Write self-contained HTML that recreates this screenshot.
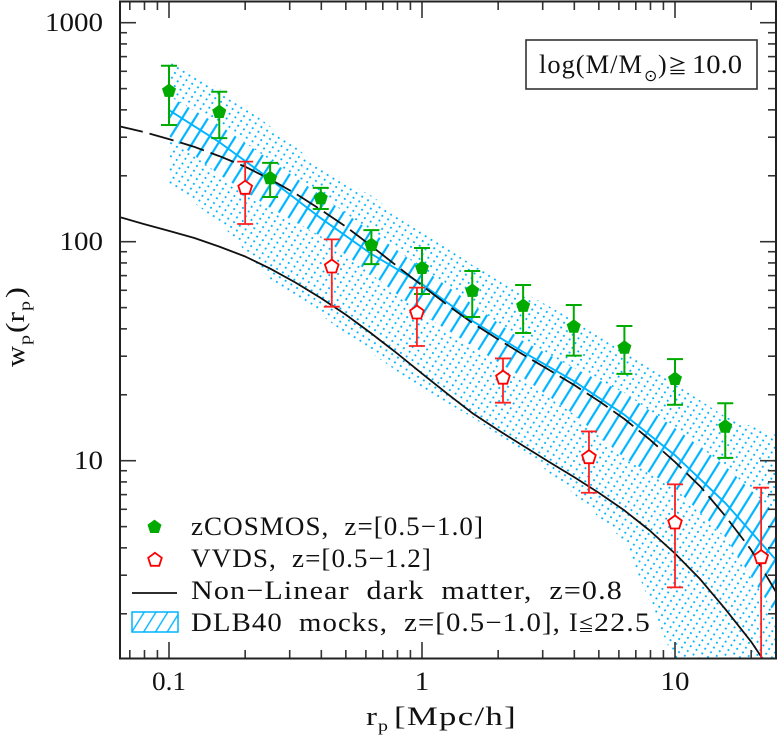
<!DOCTYPE html>
<html>
<head>
<meta charset="utf-8">
<title>Projected correlation function</title>
<style>
html,body{margin:0;padding:0;background:#fff;width:777px;height:736px;overflow:hidden;}
svg{display:block;}
text{font-family:"Liberation Serif","Noto Serif CJK JP",serif;fill:#111;}
#legend text{letter-spacing:1px;word-spacing:7px;}
</style>
</head>
<body>
<svg id="chart" xmlns="http://www.w3.org/2000/svg" width="777" height="736" viewBox="0 0 777 736">
  <defs>
    <clipPath id="plot-clip"><rect x="120" y="1.5" width="656" height="657"/></clipPath>
    <pattern id="hatch" patternUnits="userSpaceOnUse" width="11" height="11" patternTransform="translate(3 0) rotate(32)">
      <line x1="5.5" y1="0" x2="5.5" y2="11" stroke="#00b4ff" stroke-width="2.2"/>
    </pattern>
    <pattern id="legend-hatch" patternUnits="userSpaceOnUse" width="10" height="10" patternTransform="translate(2 0) rotate(32)">
      <line x1="5" y1="0" x2="5" y2="10" stroke="#00b4ff" stroke-width="1.4"/>
    </pattern>
    <pattern id="dots" patternUnits="userSpaceOnUse" width="6.8" height="5.6" patternTransform="rotate(32)">
      <circle cx="3.4" cy="2.8" r="1.05" fill="#00b4ff"/>
    </pattern>
  </defs>

  <rect x="0" y="0" width="777" height="736" fill="#fff"/>
  <g id="plot" clip-path="url(#plot-clip)"></g>
  <g id="ticks"></g>
  <rect x="120" y="1.5" width="656" height="657" fill="none" stroke="#222" stroke-width="2"/>

  <g id="tick-labels" font-size="26"></g>

  <g>
    <text x="366" y="725" font-size="26" textLength="11" lengthAdjust="spacingAndGlyphs">r</text>
    <text x="378" y="731" font-size="16" textLength="10" lengthAdjust="spacingAndGlyphs">p</text>
    <text x="394" y="725" font-size="26" textLength="123" lengthAdjust="spacingAndGlyphs" style="letter-spacing:1px">[Mpc/h]</text>
  </g>
  <g transform="translate(24 367) rotate(-90)">
    <text x="0" y="0" font-size="26" textLength="21" lengthAdjust="spacingAndGlyphs">w</text>
    <text x="22" y="6" font-size="16" textLength="10" lengthAdjust="spacingAndGlyphs">p</text>
    <text x="34" y="0" font-size="26" textLength="21" lengthAdjust="spacingAndGlyphs">(r</text>
    <text x="56" y="6" font-size="16" textLength="10" lengthAdjust="spacingAndGlyphs">p</text>
    <text x="69" y="0" font-size="26" textLength="11" lengthAdjust="spacingAndGlyphs">)</text>
  </g>

  <g>
    <rect x="526" y="40" width="231" height="49" fill="#fff" stroke="#333" stroke-width="1.6"/>
    <text x="539" y="73" font-size="26" textLength="104" lengthAdjust="spacingAndGlyphs" style="letter-spacing:1px">log(M/M</text>
    <text x="644" y="81" font-size="16" style="font-family:'DejaVu Sans',sans-serif">⊙</text>
    <text x="658" y="73" font-size="26">)</text>
    <text x="668" y="73" font-size="19" style="font-family:'Noto Sans CJK JP',sans-serif">≧</text>
    <text x="692" y="73" font-size="26" textLength="50" lengthAdjust="spacingAndGlyphs">10.0</text>
  </g>

  <g id="legend" font-size="26">
    <g>
      <polygon id="legend-green" fill="#00aa00"/>
      <text x="191" y="535" textLength="293" lengthAdjust="spacingAndGlyphs">zCOSMOS, z=[0.5−1.0]</text>
    </g>
    <g>
      <polygon id="legend-red" fill="#fff" stroke="#ff0000" stroke-width="1.8"/>
      <text x="191" y="567" textLength="241" lengthAdjust="spacingAndGlyphs">VVDS, z=[0.5−1.2]</text>
    </g>
    <g>
      <line x1="132" y1="593" x2="177" y2="593" stroke="#111" stroke-width="1.8"/>
      <text x="191" y="599" textLength="432" lengthAdjust="spacingAndGlyphs">Non−Linear dark matter, z=0.8</text>
    </g>
    <g>
      <rect x="132" y="612" width="46" height="20" fill="url(#legend-hatch)" stroke="#00b4ff" stroke-width="1.5"/>
      <text x="191" y="631" textLength="370" lengthAdjust="spacingAndGlyphs">DLB40 mocks, z=[0.5−1.0],</text>
      <text x="569" y="631">I</text>
      <text x="578" y="631" font-size="16" style="font-family:'Noto Sans CJK JP',sans-serif">≦</text>
      <text x="594" y="631" textLength="57" lengthAdjust="spacingAndGlyphs">22.5</text>
    </g>
  </g>

<script>
// ---- data ----
const greenR = [0.1,0.158,0.251,0.398,0.631,1,1.58,2.51,3.98,6.31,10,15.8];
const greenW = [488,391,195,158,96.6,75.8,59.6,50.9,40.9,32.8,23.6,14.3];
const greenHigh = [636,484,229,176,113,93.6,73.5,63.4,51.4,41.2,29.1,18.3];
const greenLow = [341,297,160,141,79,57.7,45.3,38.3,30.2,24.9,18.0,10.3];

const redR = [0.2,0.44,0.955,2.09,4.57,10,21.9];
const redW = [176,76.9,47.4,23.9,10.36,5.21,3.62];
const redHigh = [232,102.5,61.7,29.3,13.6,7.8,7.53];
const redLow = [120.5,50.5,33.4,18.4,7.14,2.64,1.0];

const bandR = [0.1,0.158,0.251,0.398,0.631,1,1.58,2.51,3.98,6.31,10,15.8,25.1];
const dotsUpper = [668,503,337,217,162,112,78.3,58.9,43.9,32.4,22.4,15.9,13.1];
const dotsLower = [183,123,67.5,46.3,31.0,21.3,15.8,11.1,7.05,4.30,1.20,0.348,0.0987];
const hatchUpper = [462,341,236,163,111,75.8,51.9,35.2,26.5,20.4,14.1,9.46,5.71];
const hatchLower = [304,202,143,106,71.2,46.8,33.4,23.9,16.3,10.3,7.50,4.48,1.97];
const bandMedian = [399,285,193,128,87.9,64.1,43.5,31.4,23.1,16.2,10.6,6.41,3.52];

const curveR = [0.0631,0.0794,0.1,0.126,0.158,0.2,0.251,0.316,0.398,0.501,0.631,0.794,1,1.26,1.58,2,2.51,3.16,3.98,5.01,6.31,7.94,10,12.6,15.8,20,25.1];
const scaledCurve = [337,317,294,271,246,220,193,166,140,117,95.6,77.5,63.1,51.4,42.6,35.8,30.5,26.1,22.2,18.7,15.5,12.5,9.86,7.62,5.59,3.91,2.51];
const darkMatterCurve = [130,120.5,112,104,95,85.6,75.4,65.1,55.3,46.3,38.1,31.0,25.0,20.2,16.5,13.8,11.7,9.92,8.43,7.12,5.93,4.80,3.77,2.87,2.10,1.49,1.01];

const xMajorTicks = [0.1,1,10];
const xMajorLabels = ["0.1","1","10"];
const yMajorTicks = [10,100,1000];
const yMajorLabels = ["10","100","1000"];
const xMinorTicks = [0.07,0.08,0.09,0.2,0.3,0.4,0.5,0.6,0.7,0.8,0.9,2,3,4,5,6,7,8,9,20];
const yMinorTicks = [2,3,4,5,6,7,8,9,20,30,40,50,60,70,80,90,200,300,400,500,600,700,800,900];

// ---- axis functions ----
const xS = v => 422 + 253 * Math.log10(v);
const yS = v => 241.7 - 219 * (Math.log10(v) - 2);
const yFloor = 662;

const NS = "http://www.w3.org/2000/svg";
const plot = document.getElementById("plot");
const ticks = document.getElementById("ticks");
const labels = document.getElementById("tick-labels");

function make(tag, parent, attrs) {
  const el = document.createElementNS(NS, tag);
  for (const k in attrs) el.setAttribute(k, attrs[k]);
  parent.appendChild(el);
  return el;
}
function linePts(xs, ys) {
  return xs.map((x, i) => xS(x).toFixed(1) + "," + Math.min(yS(ys[i]), yFloor + 60).toFixed(1));
}
function pentagon(cx, cy, r) {
  const pts = [];
  for (let i = 0; i < 5; i++) {
    const a = -Math.PI / 2 + i * 2 * Math.PI / 5;
    pts.push((cx + r * Math.cos(a)).toFixed(1) + "," + (cy + r * Math.sin(a)).toFixed(1));
  }
  return pts.join(" ");
}

// ---- mock band ----
const topDots = linePts(bandR, dotsUpper).concat(linePts(bandR, hatchUpper).reverse()).join(" ");
const bandDotsTop = make("polygon", plot, {points: topDots, fill: "url(#dots)"});



const lowDots = linePts(bandR, hatchLower).concat(linePts(bandR, dotsLower).reverse()).join(" ");
const bandDotsLow = make("polygon", plot, {points: lowDots, fill: "url(#dots)"});



const inner = linePts(bandR, hatchUpper).concat(linePts(bandR, hatchLower).reverse()).join(" ");
const bandHatch = make("polygon", plot, {points: inner, fill: "url(#hatch)"});



const medianLine = make("polyline", plot, {points: linePts(bandR, bandMedian).join(" "), fill: "none", stroke: "#00b4ff", "stroke-width": 1.9});



// ---- curves ----
const scaledLine = make("polyline", plot, {points: linePts(curveR, scaledCurve).join(" "), fill: "none", stroke: "#111", "stroke-width": 1.8, "stroke-dasharray": "25 7", "stroke-linejoin": "round"});



const darkLine = make("polyline", plot, {points: linePts(curveR, darkMatterCurve).join(" "), fill: "none", stroke: "#111", "stroke-width": 1.8, "stroke-linejoin": "round"});



// ---- data points ----
function errorBar(parent, x, hi, lo, color, width) {
  const g = make("g", parent, {stroke: color, "stroke-width": width, fill: "none"});
  make("line", g, {x1: xS(x), x2: xS(x), y1: yS(hi), y2: yS(lo)});
  make("line", g, {x1: xS(x) - 8, x2: xS(x) + 8, y1: yS(hi), y2: yS(hi)});
  make("line", g, {x1: xS(x) - 8, x2: xS(x) + 8, y1: yS(lo), y2: yS(lo)});
  return g;
}
greenR.forEach((r, i) => {
  const bar = errorBar(plot, r, greenHigh[i], greenLow[i], "#00aa00", 2);
  
  
  const pt = make("polygon", plot, {points: pentagon(xS(r), yS(greenW[i]), 7.4), fill: "#00aa00"});
  
  
});
redR.forEach((r, i) => {
  const bar = errorBar(plot, r, redHigh[i], redLow[i], "#ff2020", 1.8);
  
  
  const pt = make("polygon", plot, {points: pentagon(xS(r), yS(redW[i]), 7.2), fill: "#fff", stroke: "#ff0000", "stroke-width": 1.8});
  
  
});

// ---- legend markers ----
document.getElementById("legend-green").setAttribute("points", pentagon(154.5, 527, 7.4));
document.getElementById("legend-red").setAttribute("points", pentagon(155, 560, 7.2));

// ---- ticks ----
function tick(x1, y1, x2, y2) {
  const t = make("line", ticks, {x1: x1, y1: y1, x2: x2, y2: y2, stroke: "#333", "stroke-width": 1.6});
  
  
}
xMajorTicks.forEach(v => { const p = xS(v); tick(p, 1.5, p, 18); tick(p, 658.5, p, 642); });
xMinorTicks.forEach(v => { const p = xS(v); tick(p, 1.5, p, 10); tick(p, 658.5, p, 650); });
yMajorTicks.forEach(v => { const p = yS(v); tick(120, p, 136, p); tick(776, p, 760, p); });
yMinorTicks.forEach(v => { const p = yS(v); tick(120, p, 127, p); tick(776, p, 768, p); });

xMajorLabels.forEach((s, i) => {
  const t = make("text", labels, {x: xS(xMajorTicks[i]), y: 690, "text-anchor": "middle", textLength: s.length === 3 ? 34 : (s.length * 14.5), lengthAdjust: "spacingAndGlyphs"});
  t.textContent = s;
  
  
});
yMajorLabels.forEach((s, i) => {
  const t = make("text", labels, {x: 103, y: yS(yMajorTicks[i]) + 8.5, "text-anchor": "end", textLength: s.length * 14.5, lengthAdjust: "spacingAndGlyphs"});
  t.textContent = s;
  
  
});
</script>
</svg>
</body>
</html>
